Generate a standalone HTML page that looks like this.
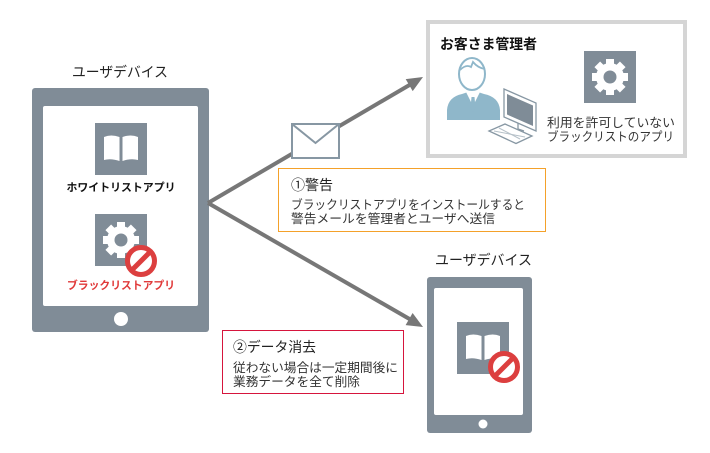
<!DOCTYPE html>
<html><head><meta charset="utf-8"><style>
html,body{margin:0;padding:0;background:#fff;}
svg{display:block;}
text{font-family:"Liberation Sans","Noto Sans CJK JP",sans-serif;}
</style></head><body>
<svg width="710" height="453" viewBox="0 0 710 453" xmlns="http://www.w3.org/2000/svg">
<rect width="710" height="453" fill="#fff"/>

<!-- Left tablet -->
<text x="120" y="77" font-size="14" fill="#222" text-anchor="middle" textLength="96" lengthAdjust="spacingAndGlyphs">ユーザデバイス</text>
<rect x="32" y="88" width="177" height="244" rx="3" fill="#808c97"/>
<rect x="43" y="106" width="155" height="200" rx="2" fill="#fff"/>
<circle cx="121" cy="319" r="7" fill="#fff"/>

<!-- book icon left -->
<rect x="95" y="123" width="52" height="52" fill="#808c97"/>
<path d="M104,137 Q111,134 119.5,137 L119.5,161 Q111,158 104,160 Z" fill="#fff"/>
<path d="M138,137 Q131,134 122.5,137 L122.5,161 Q131,158 138,160 Z" fill="#fff"/>
<text x="121" y="191" font-size="11" font-weight="bold" fill="#111" text-anchor="middle" textLength="109" lengthAdjust="spacingAndGlyphs">ホワイトリストアプリ</text>

<!-- gear icon left -->
<rect x="95" y="214" width="52" height="52" fill="#808c97"/>
<g transform="translate(121,240)" fill="#fff">
  <rect x="-4" y="-18" width="8" height="36"/>
  <rect x="-4" y="-18" width="8" height="36" transform="rotate(45)"/>
  <rect x="-4" y="-18" width="8" height="36" transform="rotate(90)"/>
  <rect x="-4" y="-18" width="8" height="36" transform="rotate(135)"/>
  <circle r="14"/>
  <circle r="6.5" fill="#808c97"/>
</g>
<g transform="translate(141,261)">
  <circle r="13.5" fill="#fff" stroke="#dc3f3f" stroke-width="5"/>
  <line x1="9.5" y1="-9.5" x2="-9.5" y2="9.5" stroke="#dc3f3f" stroke-width="5"/>
</g>
<text x="121" y="289" font-size="11" font-weight="bold" fill="#e03a3a" text-anchor="middle" textLength="108" lengthAdjust="spacingAndGlyphs">ブラックリストアプリ</text>

<!-- Arrows -->
<line x1="208" y1="203" x2="409.5" y2="85" stroke="#777" stroke-width="4"/>
<polygon points="423,77 412.7,91.1 405.7,79.1" fill="#777"/>
<line x1="208" y1="203" x2="409.5" y2="319" stroke="#777" stroke-width="4"/>
<polygon points="423,327 405.6,325.1 412.6,313" fill="#777"/>

<!-- Envelope -->
<rect x="292" y="124" width="47" height="34" fill="#fff" stroke="#8797a3" stroke-width="2"/>
<polyline points="292,124 315.5,143 339,124" fill="none" stroke="#8797a3" stroke-width="2"/>

<!-- Top-right admin box -->
<rect x="428" y="22" width="257" height="134" fill="#fff" stroke="#d5d5d5" stroke-width="4"/>
<text x="440" y="49" font-size="14" font-weight="bold" fill="#111" textLength="97" lengthAdjust="spacingAndGlyphs">お客さま管理者</text>
<!-- person -->
<path d="M447,120 L447,110 Q448,97 462,94 L468,92 L478,92 L484,94 Q499,97 500,110 L500,120 Z" fill="#8fb7ca"/>
<polygon points="466,92 473,106 480,92" fill="#fff"/>
<polygon points="471.5,97 474.5,97 475.5,108 473,112 470.5,108" fill="#8fb7ca"/>
<ellipse cx="472" cy="74" rx="13" ry="16" fill="#fff" stroke="#8fb7ca" stroke-width="2"/>
<path d="M460,70 Q466,64 471,67 L473,62 Q478,68 485,69" fill="none" stroke="#8fb7ca" stroke-width="1.8"/>
<!-- monitor -->
<polygon points="504,89 536,103 536,131 504,117" fill="#fff" stroke="#8797a3" stroke-width="1.3"/>
<polygon points="507,94 533,105.5 533,126 507,114.5" fill="#7f8c97"/>
<polyline points="518,123 518,129 524,131" fill="none" stroke="#8797a3" stroke-width="1.3"/>
<polygon points="489,131 505,124 532,136 516,143.5" fill="#fff" stroke="#8797a3" stroke-width="1.3"/>
<line x1="494" y1="131" x2="525" y2="137" stroke="#b5c0c8" stroke-width="1"/>
<line x1="499" y1="128" x2="520" y2="139" stroke="#b5c0c8" stroke-width="1"/>
<!-- gear right -->
<rect x="584" y="51" width="52" height="52" fill="#808c97"/>
<g transform="translate(610,77)" fill="#fff">
  <rect x="-4" y="-18" width="8" height="36"/>
  <rect x="-4" y="-18" width="8" height="36" transform="rotate(45)"/>
  <rect x="-4" y="-18" width="8" height="36" transform="rotate(90)"/>
  <rect x="-4" y="-18" width="8" height="36" transform="rotate(135)"/>
  <circle r="14"/>
  <circle r="6.5" fill="#808c97"/>
</g>
<text x="547" y="127" font-size="12.5" fill="#333" textLength="128" lengthAdjust="spacingAndGlyphs">利用を許可していない</text>
<text x="547" y="141" font-size="12.5" fill="#333" textLength="127" lengthAdjust="spacingAndGlyphs">ブラックリストのアプリ</text>

<!-- Orange box -->
<rect x="278.5" y="168.5" width="267" height="63" fill="#fff" stroke="#f4a12a" stroke-width="1"/>
<text x="291" y="190" font-size="14" fill="#222" textLength="42" lengthAdjust="spacingAndGlyphs">①警告</text>
<text x="291" y="209" font-size="12.5" fill="#333" textLength="234" lengthAdjust="spacingAndGlyphs">ブラックリストアプリをインストールすると</text>
<text x="291" y="223" font-size="12.5" fill="#333" textLength="204" lengthAdjust="spacingAndGlyphs">警告メールを管理者とユーザへ送信</text>

<!-- Right tablet -->
<text x="483.5" y="265" font-size="14" fill="#222" text-anchor="middle" textLength="97" lengthAdjust="spacingAndGlyphs">ユーザデバイス</text>
<rect x="427" y="277" width="105" height="156" rx="3" fill="#808c97"/>
<rect x="434" y="288" width="89" height="127" rx="2" fill="#fff"/>
<circle cx="483" cy="424" r="4.5" fill="#fff"/>
<rect x="457" y="322" width="52" height="52" fill="#808c97"/>
<path d="M466,336 Q473,333 481.5,336 L481.5,360 Q473,357 466,359 Z" fill="#fff"/>
<path d="M500,336 Q493,333 484.5,336 L484.5,360 Q493,357 500,359 Z" fill="#fff"/>
<g transform="translate(504,367)">
  <circle r="13.5" fill="#fff" stroke="#dc3f3f" stroke-width="5"/>
  <line x1="9.5" y1="-9.5" x2="-9.5" y2="9.5" stroke="#dc3f3f" stroke-width="5"/>
</g>

<!-- Red box -->
<rect x="222.5" y="330.5" width="181" height="63" fill="#fff" stroke="#d6153d" stroke-width="1"/>
<text x="233" y="352" font-size="14" fill="#222" textLength="83" lengthAdjust="spacingAndGlyphs">②データ消去</text>
<text x="233" y="372" font-size="12.5" fill="#333" textLength="165" lengthAdjust="spacingAndGlyphs">従わない場合は一定期間後に</text>
<text x="233" y="386" font-size="12.5" fill="#333" textLength="127" lengthAdjust="spacingAndGlyphs">業務データを全て削除</text>
</svg>
</body></html>
